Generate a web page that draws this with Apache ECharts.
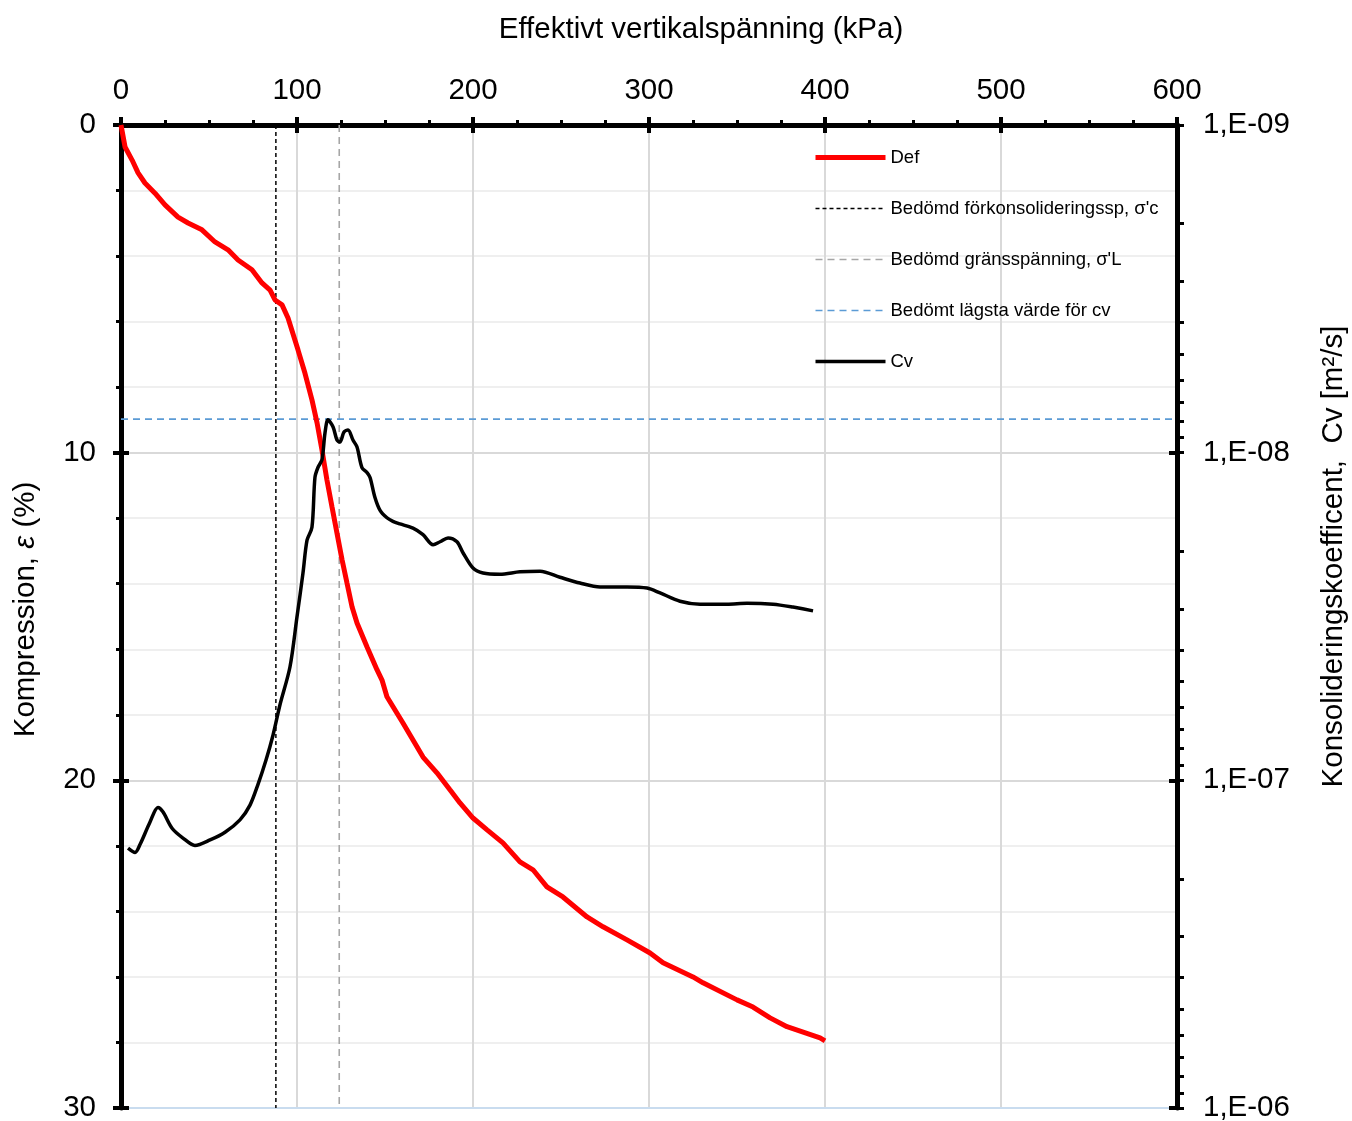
<!DOCTYPE html>
<html>
<head>
<meta charset="utf-8">
<script src="https://cdn.jsdelivr.net/npm/echarts@6/dist/echarts.min.js"></script>
<style>
  html, body { margin: 0; padding: 0; background: #fff; }
  #main { width: 1352px; height: 1121px; }
</style>
</head>
<body>
<div id="main"></div>
<script>
// kompressionskurva (Def): spänning kPa / kompression %
var defStress = [0, 0.6, 2.3, 6.3, 9.7, 13.6, 19.3, 25.0, 32.4, 38.1, 46.0, 53.4, 60.8, 66.5, 74.4, 80.1, 84.7, 87.5, 91.5, 94.9,
  100.6, 104.5, 108.5, 111.4, 114.2, 117.0, 119.9, 122.7, 125.6, 128.4, 131.3, 134.1, 139.8, 145.5, 148.3, 151.1, 160.2,
  165.9, 171.6, 179.5, 186.9, 192.6, 200.0, 208.0, 217.0, 226.7, 234.1, 242.0, 251.1, 264.8, 273.9, 287.5, 300.6, 308.0,
  325.0, 330.7, 350.0, 359.1, 368.8, 378.4, 397.2, 400.0];
var defStrain = [0, 0.06, 0.67, 1.07, 1.46, 1.77, 2.08, 2.44, 2.81, 2.99, 3.20, 3.57, 3.81, 4.12, 4.42, 4.82, 5.04, 5.34, 5.49, 5.89,
  6.87, 7.57, 8.39, 9.09, 9.92, 10.83, 11.66, 12.45, 13.27, 13.98, 14.71, 15.20, 15.93, 16.63, 16.94, 17.45, 18.25,
  18.77, 19.29, 19.77, 20.29, 20.69, 21.15, 21.51, 21.91, 22.49, 22.73, 23.25, 23.56, 24.17, 24.47, 24.87, 25.27, 25.57,
  26.00, 26.18, 26.70, 26.92, 27.25, 27.52, 27.86, 27.95];

// konsolideringskoefficient cv (m2/s)
var cvStress = [4.0, 8.0, 10.8, 16.5, 21.0, 23.9, 29.0, 35.2, 42.0, 50.6, 59.1, 67.6, 73.3, 77.8, 82.4, 86.4, 90.3, 96.0,
  100.0, 103.4, 105.7, 108.5, 110.2, 111.9, 114.2, 115.9, 117.6, 120.5, 122.7, 124.4, 126.7, 129.0, 131.8, 134.1, 136.9,
  139.8, 141.5, 144.3, 147.2, 151.1, 154.5, 158.5, 165.9, 171.6, 177.3, 181.3, 185.8, 190.9, 194.3, 200.0, 205.7, 215.3,
  226.7, 238.1, 249.4, 260.8, 272.2, 287.5, 298.9, 306.3, 317.6, 329.0, 344.3, 355.7, 370.5, 381.8, 393.2];
var cvValues = [1.61e-7, 1.66e-7, 1.57e-7, 1.34e-7, 1.21e-7, 1.25e-7, 1.40e-7, 1.50e-7, 1.58e-7, 1.52e-7, 1.44e-7, 1.32e-7,
  1.19e-7, 1.03e-7, 8.67e-8, 7.27e-8, 5.89e-8, 4.51e-8,
  3.17e-8, 2.33e-8, 1.85e-8, 1.69e-8, 1.19e-8, 1.11e-8, 1.05e-8, 8.71e-9, 7.94e-9, 8.35e-9, 9.15e-9, 9.28e-9, 8.65e-9,
  8.53e-9, 9.15e-9, 9.61e-9, 1.11e-8, 1.15e-8, 1.19e-8, 1.37e-8, 1.50e-8, 1.58e-8, 1.62e-8, 1.65e-8, 1.70e-8, 1.78e-8,
  1.91e-8, 1.87e-8, 1.82e-8, 1.87e-8, 2.02e-8, 2.25e-8, 2.33e-8, 2.35e-8, 2.31e-8, 2.30e-8, 2.40e-8, 2.50e-8, 2.57e-8,
  2.57e-8, 2.59e-8, 2.68e-8, 2.84e-8, 2.90e-8, 2.90e-8, 2.88e-8, 2.90e-8, 2.96e-8, 3.04e-8];

// bedömda värden
var sigmaC = 88;      // förkonsolideringsspänning kPa
var sigmaL = 124;     // gränsspänning kPa
var cvMin = 7.9e-9;   // lägsta cv

var cvDecades = [1e-9, 1e-8, 1e-7, 1e-6];

var cvMinorTicks = [];
cvDecades.forEach(function (d, i) {
  if (i === cvDecades.length - 1) { cvMinorTicks.push(d); return; }
  for (var k = 1; k < 10; k++) cvMinorTicks.push(+(d * k).toPrecision(3));
});

function zip(a, b) { return a.map(function (v, i) { return [v, b[i]]; }); }

var font = "'Liberation Sans', Arial, sans-serif";
var fs = 29.5;
var myChart = echarts.init(document.getElementById('main'));

var option = {
  animation: false,
  backgroundColor: '#fff',
  textStyle: { fontFamily: font, color: '#000' },
  grid: { left: 121, top: 125, right: 175, bottom: 13, containLabel: false, outerBoundsMode: 'none' },
  legend: {
    orient: 'vertical',
    left: 808, top: 143,
    itemWidth: 70, itemHeight: 14, itemGap: 32,
    itemStyle: { opacity: 0 },
    textStyle: { fontSize: 18.5, color: '#000', fontFamily: font },
    data: [
      { name: 'Def', lineStyle: { width: 5 } },
      { name: "Bedömd förkonsolideringssp, σ'c", lineStyle: { width: 1.5 } },
      { name: "Bedömd gränsspänning, σ'L", lineStyle: { width: 1.6 } },
      { name: 'Bedömt lägsta värde för cv', lineStyle: { width: 1.6 } },
      { name: 'Cv', lineStyle: { width: 3.5 } }
    ]
  },
  xAxis: [
    {
      type: 'value', position: 'top', min: 0, max: 600, interval: 100,
      name: 'Effektivt vertikalspänning (kPa)', nameLocation: 'middle', nameGap: 80,
      nameTextStyle: { fontSize: fs, color: '#000', fontFamily: font, padding: [0, 0, 0, 104] },
      axisLine: { onZero: false, lineStyle: { color: '#000', width: 5 } },
      axisTick: { length: 8, lineStyle: { color: '#000', width: 4 } },
      minorTick: { show: true, splitNumber: 4, length: 5, lineStyle: { color: '#000', width: 3 } },
      axisLabel: { fontSize: fs, color: '#000', margin: 19, fontFamily: font },
      splitLine: { show: true, lineStyle: { color: '#d9d9d9', width: 2 } }
    },
    {
      type: 'value', position: 'top', min: 0, max: 600, interval: 100,
      axisLine: { show: false, onZero: false },
      axisTick: { inside: true, length: 8, lineStyle: { color: '#000', width: 4 } },
      axisLabel: { show: false }, splitLine: { show: false }
    },
    {
      type: 'value', position: 'bottom', min: 0, max: 600,
      axisLine: { onZero: false, lineStyle: { color: '#c9dcef', width: 2 } },
      axisTick: { show: false }, axisLabel: { show: false }, splitLine: { show: false }
    }
  ],
  yAxis: [
    {
      type: 'value', position: 'left', inverse: true, min: 0, max: 30, interval: 10,
      name: 'Kompression, {i|ε} (%)', nameLocation: 'middle', nameGap: 80, nameRotate: 90,
      nameTextStyle: {
        fontSize: fs, color: '#000', fontFamily: font, padding: [0, 0, 0, 14],
        rich: { i: { fontSize: fs, fontStyle: 'italic', fontFamily: font } }
      },
      axisLine: { onZero: false, lineStyle: { color: '#000', width: 5 } },
      axisTick: { length: 8, lineStyle: { color: '#000', width: 4 } },
      minorTick: { show: true, splitNumber: 5, length: 5, lineStyle: { color: '#000', width: 3 } },
      axisLabel: { fontSize: fs, color: '#000', margin: 25, fontFamily: font },
      splitLine: { show: true, lineStyle: { color: '#d9d9d9', width: 2 } },
      minorSplitLine: { show: true, lineStyle: { color: '#efefef', width: 2 } }
    },
    {
      type: 'log', logBase: 10, position: 'right', inverse: true, min: 1e-9, max: 1e-6,
      name: 'Konsolideringskoefficent,  Cv [m²/s]', nameLocation: 'middle', nameGap: 142, nameRotate: 90,
      nameTextStyle: { fontSize: fs, color: '#000', fontFamily: font, padding: [0, 0, 0, 120] },
      axisLine: { onZero: false, lineStyle: { color: '#000', width: 5 } },
      axisTick: { length: 7, customValues: cvMinorTicks, lineStyle: { color: '#000', width: 3 } },
      axisLabel: {
        fontSize: fs, color: '#000', margin: 26, fontFamily: font, customValues: cvDecades,
        formatter: function (v) {
          var e = Math.round(Math.log10(v));
          var s = String(Math.abs(e));
          if (s.length < 2) s = '0' + s;
          return '1,E' + (e < 0 ? '-' : '+') + s;
        }
      },
      splitLine: { show: false }
    },
    {
      type: 'log', logBase: 10, position: 'right', inverse: true, min: 1e-9, max: 1e-6,
      axisLine: { show: false, onZero: false },
      axisTick: { inside: true, length: 8, customValues: cvDecades, lineStyle: { color: '#000', width: 4 } },
      axisLabel: { show: false }, splitLine: { show: false }
    },
    {
      type: 'value', position: 'left', inverse: true, min: 0, max: 30, interval: 10,
      axisLine: { show: false, onZero: false },
      axisTick: { inside: true, length: 8, lineStyle: { color: '#000', width: 4 } },
      axisLabel: { show: false }, splitLine: { show: false }
    }
  ],
  series: [
    {
      name: "Bedömd förkonsolideringssp, σ'c", type: 'line', xAxisIndex: 0, yAxisIndex: 0,
      data: [[sigmaC, 0], [sigmaC, 30]], symbol: 'none', z: 1,
      lineStyle: { color: '#000', width: 1.5, type: [4, 3] }, itemStyle: { color: '#000' }
    },
    {
      name: "Bedömd gränsspänning, σ'L", type: 'line', xAxisIndex: 0, yAxisIndex: 0,
      data: [[sigmaL, 0], [sigmaL, 30]], symbol: 'none', z: 1,
      lineStyle: { color: '#a6a6a6', width: 1.6, type: [7, 5] }, itemStyle: { color: '#a6a6a6' }
    },
    {
      name: 'Bedömt lägsta värde för cv', type: 'line', xAxisIndex: 0, yAxisIndex: 1,
      data: [[0, cvMin], [600, cvMin]], symbol: 'none', z: 1,
      lineStyle: { color: '#5b9bd5', width: 1.6, type: [7, 5] }, itemStyle: { color: '#5b9bd5' }
    },
    {
      name: 'Def', type: 'line', xAxisIndex: 0, yAxisIndex: 0,
      data: zip(defStress, defStrain), symbol: 'none', z: 3,
      lineStyle: { color: '#ff0000', width: 5 }, itemStyle: { color: '#ff0000' }
    },
    {
      name: 'Cv', type: 'line', xAxisIndex: 0, yAxisIndex: 1,
      data: zip(cvStress, cvValues), symbol: 'none', smooth: 0.3, z: 4,
      lineStyle: { color: '#000', width: 3.5 }, itemStyle: { color: '#000' }
    },
    // tomma serier så att hjälpaxlarna (korsande tickar, underkant) ritas
    { type: 'line', xAxisIndex: 1, yAxisIndex: 2, data: [], silent: true },
    { type: 'line', xAxisIndex: 2, yAxisIndex: 3, data: [], silent: true }
  ]
};
myChart.setOption(option);
</script>
</body>
</html>
